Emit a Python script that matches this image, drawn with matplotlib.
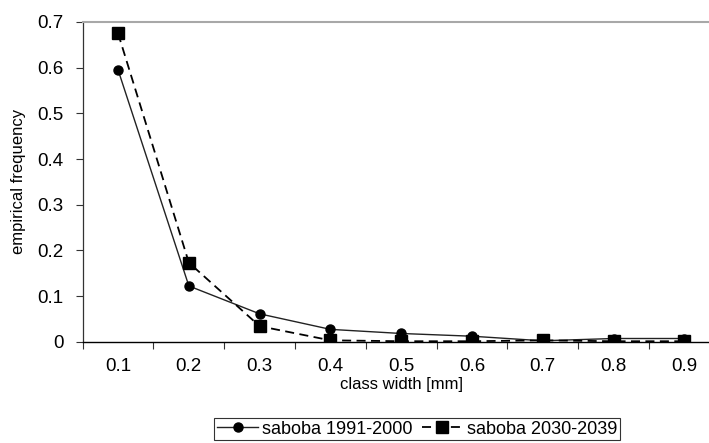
import matplotlib
matplotlib.use("Agg")
import matplotlib.pyplot as plt
from matplotlib.ticker import FixedLocator, NullFormatter

plt.rcParams['font.family'] = ['Liberation Sans', 'DejaVu Sans']

classes = ["0.1", "0.2", "0.3", "0.4", "0.5", "0.6", "0.7", "0.8", "0.9"]
freq_1991_2000 = [0.595, 0.122, 0.061, 0.027, 0.018, 0.012, 0.002, 0.007, 0.007]
freq_2030_2039 = [0.675, 0.173, 0.034, 0.003, 0.001, 0.001, 0.003, 0.001, 0.001]
y_ticks = [0, 0.1, 0.2, 0.3, 0.4, 0.5, 0.6, 0.7]
y_ticklabels = ["0", "0.1", "0.2", "0.3", "0.4", "0.5", "0.6", "0.7"]

W, H = 709, 443
fig = plt.figure(figsize=(W / 100, H / 100), dpi=100)
ax = fig.add_axes([82.7 / W, (H - 341.7) / H, 637 / W, 319.7 / H])

x = list(range(len(classes)))
ax.plot(x, freq_1991_2000, color="#222222", lw=1.0, marker="o", ms=6.5,
        mfc="black", mec="black", label="saboba 1991-2000", zorder=3)
ax.plot(x, freq_2030_2039, color="black", lw=1.3, ls=(0, (5, 3)), marker="s",
        ms=8, mfc="black", mec="black", label="saboba 2030-2039", zorder=4)

ax.set_xlim(-0.5, len(classes) - 0.5)
ax.set_ylim(0, 0.7)

ax.set_xticks(x)
ax.set_xticklabels(classes)
ax.xaxis.set_minor_locator(FixedLocator([i - 0.5 for i in range(len(classes) + 1)]))
ax.xaxis.set_minor_formatter(NullFormatter())
ax.tick_params(axis="x", which="major", length=0, pad=12, labelsize=13.5)
ax.tick_params(axis="x", which="minor", length=5, width=0.8, color="#333333",
               direction="out")

ax.set_yticks(y_ticks)
ax.set_yticklabels(y_ticklabels)
ax.tick_params(axis="y", length=5, width=0.8, color="#333333", direction="out",
               pad=9, labelsize=13.5)

ax.spines["top"].set_color("#a8a8a8")
ax.spines["top"].set_linewidth(1.5)
ax.spines["right"].set_visible(False)
ax.spines["left"].set_color("#333333")
ax.spines["left"].set_linewidth(0.9)
ax.spines["bottom"].set_color("black")
ax.spines["bottom"].set_linewidth(1.0)

ax.set_xlabel("class width [mm]", fontsize=12, labelpad=1)
ax.set_ylabel("empirical frequency", fontsize=12, labelpad=8)

leg = fig.legend(loc="center", bbox_to_anchor=(417 / W, (H - 429) / H), ncol=2,
                 fontsize=13, frameon=True, fancybox=False, edgecolor="black",
                 handlelength=2.3, handletextpad=0.2, columnspacing=0.5,
                 borderpad=0.15, borderaxespad=0)
leg.get_frame().set_linewidth(0.8)

fig.savefig("out.png", dpi=100)
